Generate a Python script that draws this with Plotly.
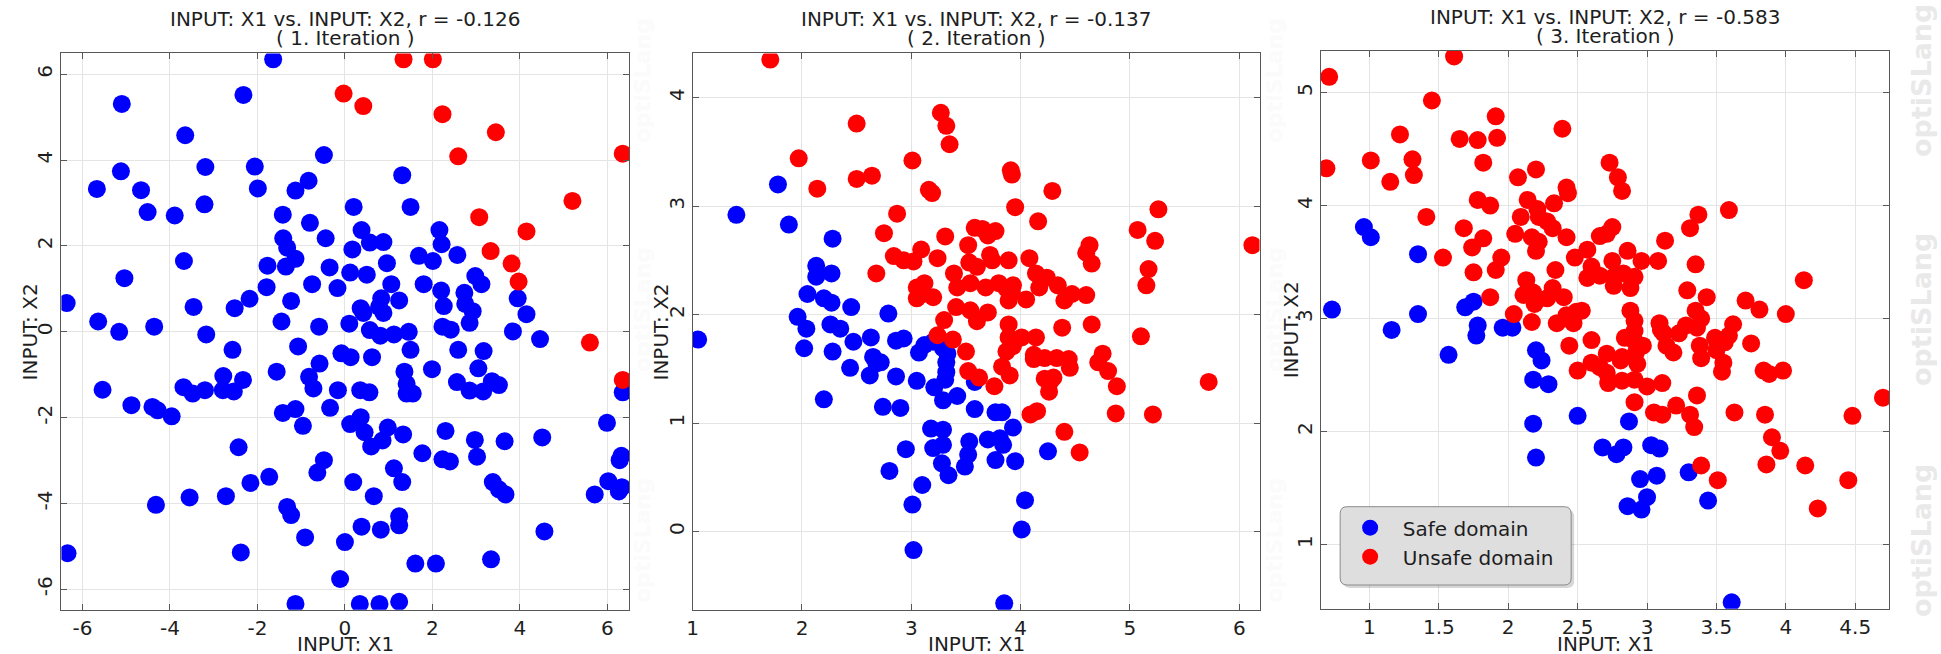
import plotly.graph_objects as go

# ---------------------------------------------------------------------------
# Iteration 1: sampled designs (INPUT: X1, INPUT: X2)
# ---------------------------------------------------------------------------
it1_safe_x = [
    -1.64, -2.32, -5.10, -3.65, -0.48, -5.12, -5.67, -4.66, -3.19, -2.06,
    -1.99, -0.83, -1.13, 1.31, 1.50, 0.20, -4.51, -3.89, -3.21, -1.42,
    -0.80, -0.44, 0.38, 0.57, 0.88, -1.41, -1.32, 0.17, 2.16, 2.21,
    2.57, 1.69, 2.01, 0.96, -3.68, -1.77, -1.35, -1.13, -0.35, 0.12,
    0.50, -5.04, -1.79, -0.75, -0.17, 1.06, 1.80, 2.98, 3.12, 2.73,
    2.20, -6.36, -3.46, -2.52, -2.18, -1.23, 0.83, 1.24, 0.36, 0.42,
    0.78, 0.88, 2.26, 2.75, 2.92, 3.95, 4.15, -5.64, -5.16, -4.36,
    -3.17, -1.45, -0.59, 0.10, 0.57, 0.81, 1.12, 1.46, 2.23, 2.42,
    2.85, 3.84, 4.46, -2.57, -1.07, -0.08, 0.13, 0.62, -0.58, 1.50,
    2.59, 3.17, 3.05, 1.99, -1.56, -5.54, -3.69, -3.48, -3.20, -2.78,
    -2.79, -2.54, -2.33, -0.82, -0.72, -0.16, 0.35, 0.56, 1.36, 1.41,
    1.41, 1.55, 2.56, 2.85, 3.16, 3.36, 3.52, 6.35, -4.88, -4.40,
    -4.28, -3.96, -1.42, -1.13, -0.34, -0.96, 0.12, 0.36, 0.45, 0.98,
    1.33, 2.30, 2.97, 3.65, 4.51, 5.99, -2.43, 0.60, 0.86, 1.77,
    2.23, 2.40, 3.02, -0.48, -0.63, 6.32, 6.28, -1.73, -2.16, 0.19,
    1.12, 1.31, 3.38, 3.52, 3.67, 6.02, 6.33, 6.26, 5.71, -4.32,
    -3.55, -2.72, 0.66, -1.32, -1.23, 1.24, 1.24, 0.38, 0.82, -0.91,
    0.00, 4.56, -6.34, -2.38, 1.61, 2.08, 3.34, -0.11, -1.13, 0.34, 0.79, 1.24,
]
it1_safe_y = [
    6.35, 5.52, 5.31, 4.58, 4.12, 3.74, 3.33, 3.30, 3.84, 3.85,
    3.34, 3.52, 3.29, 3.65, 2.91, 2.91, 2.79, 2.71, 2.97, 2.73,
    2.54, 2.18, 2.37, 2.08, 2.09, 2.18, 1.96, 1.92, 2.37, 2.04,
    1.79, 1.77, 1.65, 1.60, 1.65, 1.54, 1.52, 1.70, 1.50, 1.38,
    1.33, 1.25, 1.04, 1.11, 1.02, 1.11, 1.11, 1.30, 1.11, 0.91,
    0.96, 0.67, 0.58, 0.55, 0.77, 0.72, 0.78, 0.73, 0.55, 0.44,
    0.58, 0.44, 0.60, 0.65, 0.48, 0.78, 0.41, 0.24, 0.00, 0.12,
    -0.06, 0.24, 0.12, 0.19, 0.04, -0.09, -0.06, 0.00, 0.12, 0.05,
    0.21, 0.01, -0.17, -0.42, -0.34, -0.50, -0.59, -0.59, -0.74, -0.42,
    -0.42, -0.45, -0.85, -0.87, -0.93, -1.35, -1.29, -1.44, -1.36, -1.03,
    -1.36, -1.39, -1.12, -1.05, -1.32, -1.36, -1.36, -1.41, -0.93, -1.21,
    -1.44, -1.44, -1.17, -1.37, -1.39, -1.15, -1.24, -1.41, -1.71, -1.75,
    -1.83, -1.97, -1.89, -1.80, -1.77, -2.19, -2.15, -1.99, -2.34, -2.23,
    -2.39, -2.31, -2.52, -2.55, -2.46, -2.12, -2.69, -2.67, -2.53, -2.83,
    -2.97, -3.02, -2.91, -2.99, -3.28, -2.89, -2.99, -3.38, -3.52, -3.50,
    -3.18, -3.50, -3.50, -3.67, -3.79, -3.48, -3.62, -3.72, -3.79, -4.03,
    -3.86, -3.83, -3.83, -4.08, -4.27, -4.30, -4.51, -4.54, -4.61, -4.79,
    -4.90, -4.65, -5.16, -5.14, -5.40, -5.40, -5.30, -5.76, -6.34, -6.34, -6.34, -6.29,
]
it1_unsafe_x = [1.34, 2.01, -0.03, 0.42, 2.23, 3.45, 2.59, 6.35, 5.20, 3.07,
                4.15, 3.33, 3.81, 3.97, 5.60, 6.35]
it1_unsafe_y = [6.35, 6.35, 5.55, 5.26, 5.07, 4.65, 4.09, 4.15, 3.05, 2.67,
                2.34, 1.88, 1.59, 1.17, -0.25, -1.12]

# ---------------------------------------------------------------------------
# Iteration 2
# ---------------------------------------------------------------------------
it2_safe_x = [
    1.78, 1.40, 1.88, 2.28, 2.13, 2.13, 2.27, 2.05, 2.20, 2.27,
    2.45, 1.96, 2.04, 2.26, 2.35, 2.79, 1.05, 2.02, 2.28, 2.47,
    2.44, 2.63, 2.65, 2.68, 2.72, 2.62, 2.86, 2.93, 2.86, 3.05,
    3.07, 3.12, 3.20, 3.29, 3.33, 3.32, 3.32, 3.31, 3.21, 3.29,
    3.42, 3.58, 2.20, 2.74, 2.90, 3.58, 3.77, 3.83, 3.18, 3.29,
    3.93, 3.29, 3.20, 3.53, 3.70, 3.81, 3.84, 2.95, 3.52, 3.28,
    3.49, 3.34, 3.77, 3.95, 4.25, 2.80, 3.10, 3.01, 4.04, 4.01,
    3.02, 3.85,
]
it2_safe_y = [
    3.20, 2.92, 2.83, 2.70, 2.45, 2.35, 2.38, 2.19, 2.15, 2.11,
    2.07, 1.98, 1.87, 1.91, 1.87, 2.01, 1.77, 1.69, 1.66, 1.75,
    1.51, 1.79, 1.61, 1.55, 1.56, 1.44, 1.76, 1.78, 1.43, 1.39,
    1.65, 1.72, 1.75, 1.69, 1.64, 1.56, 1.47, 1.40, 1.33, 1.21,
    1.25, 1.38, 1.22, 1.15, 1.14, 1.13, 1.10, 1.10, 0.95, 0.94,
    0.96, 0.80, 0.77, 0.83, 0.85, 0.86, 0.80, 0.76, 0.71, 0.63,
    0.60, 0.52, 0.66, 0.65, 0.74, 0.56, 0.43, 0.25, 0.29, 0.02,
    -0.17, -0.66,
]
it2_unsafe_x = [
    1.71, 3.27, 3.32, 3.35, 2.50, 1.97, 3.01, 2.50, 2.64, 2.14,
    3.16, 3.19, 3.91, 3.92, 4.29, 3.95, 5.26, 2.87, 4.16, 2.75,
    3.31, 5.07, 5.23, 6.12, 3.58, 3.65, 3.70, 3.77, 3.52, 4.63,
    4.60, 4.65, 3.09, 2.84, 2.93, 3.02, 3.24, 2.68, 3.72, 3.74,
    3.89, 4.08, 3.53, 3.60, 5.17, 5.15, 3.39, 3.42, 3.54, 3.68,
    3.80, 3.87, 3.93, 4.14, 4.17, 4.24, 4.34, 4.47, 4.60, 4.05,
    4.40, 3.05, 3.12, 3.05, 3.11, 3.20, 3.41, 3.89, 3.92, 3.54,
    3.60, 3.70, 3.30, 3.89, 4.65, 4.38, 3.24, 3.38, 3.89, 4.01,
    4.14, 5.10, 3.50, 3.87, 3.93, 4.12, 4.12, 4.22, 4.33, 4.44,
    4.45, 4.75, 4.71, 4.80, 4.88, 3.52, 3.62, 3.83, 3.90, 3.76,
    4.22, 4.27, 4.26, 4.30, 5.72, 4.09, 4.15, 4.87, 5.21, 4.40,
    4.54,
]
it2_unsafe_y = [
    4.35, 3.86, 3.74, 3.57, 3.76, 3.44, 3.42, 3.25, 3.28, 3.16,
    3.15, 3.12, 3.33, 3.29, 3.14, 2.99, 2.97, 2.93, 2.86, 2.75,
    2.72, 2.78, 2.68, 2.64, 2.80, 2.79, 2.73, 2.77, 2.64, 2.64,
    2.57, 2.47, 2.60, 2.54, 2.50, 2.49, 2.52, 2.38, 2.55, 2.50,
    2.50, 2.52, 2.48, 2.44, 2.42, 2.27, 2.38, 2.25, 2.29, 2.25,
    2.29, 2.24, 2.27, 2.38, 2.25, 2.34, 2.27, 2.19, 2.18, 2.14,
    2.13, 2.25, 2.29, 2.15, 2.19, 2.16, 2.07, 2.13, 2.21, 2.04,
    1.94, 2.02, 1.95, 1.91, 1.91, 1.88, 1.81, 1.77, 1.79, 1.79,
    1.79, 1.80, 1.66, 1.66, 1.71, 1.63, 1.59, 1.60, 1.60, 1.59,
    1.51, 1.64, 1.56, 1.48, 1.34, 1.48, 1.42, 1.52, 1.44, 1.34,
    1.41, 1.38, 1.29, 1.42, 1.38, 1.08, 1.11, 1.09, 1.08, 0.92,
    0.73,
]

# ---------------------------------------------------------------------------
# Iteration 3
# ---------------------------------------------------------------------------
it3_safe_x = [
    0.96, 1.01, 0.73, 1.35, 1.35, 1.16, 1.69, 1.75, 1.78, 1.77,
    1.57, 1.96, 2.03, 2.20, 2.24, 2.18, 2.29, 2.50, 2.18, 2.20,
    2.87, 2.68, 2.78, 2.83, 3.03, 3.09, 3.07, 2.95, 3.00, 2.86,
    2.96, 3.30, 3.44, 3.61,
]
it3_safe_y = [
    3.81, 3.72, 3.08, 3.57, 3.04, 2.90, 3.10, 3.15, 2.94, 2.85,
    2.68, 2.92, 2.92, 2.72, 2.63, 2.46, 2.42, 2.14, 2.07, 1.77,
    2.09, 1.86, 1.80, 1.86, 1.88, 1.85, 1.61, 1.58, 1.42, 1.34,
    1.31, 1.64, 1.39, 0.49,
]
it3_unsafe_x = [
    0.71, 1.61, 1.45, 1.91, 1.92, 2.39, 1.22, 1.65, 1.78, 0.69,
    1.01, 1.31, 1.32, 1.82, 1.15, 2.20, 2.73, 2.79, 2.82, 2.07,
    2.42, 2.43, 1.78, 1.87, 2.14, 2.21, 2.33, 1.41, 2.09, 2.22,
    2.28, 3.59, 3.37, 3.31, 1.68, 2.05, 2.32, 2.17, 2.22, 2.42,
    2.66, 2.71, 2.75, 3.13, 1.82, 1.74, 2.20, 2.57, 2.86, 1.53,
    1.95, 2.48, 2.96, 3.08, 3.35, 2.60, 2.75, 1.75, 1.91, 2.34,
    2.13, 2.57, 2.66, 2.76, 2.76, 2.83, 2.88, 2.91, 3.29, 4.13,
    2.11, 2.18, 2.19, 2.28, 2.32, 2.40, 3.43, 3.71, 3.81, 4.00,
    2.04, 1.87, 2.17, 2.35, 2.42, 2.47, 2.49, 2.53, 2.88, 2.91,
    2.91, 3.35, 3.39, 3.09, 3.10, 3.28, 3.36, 3.62, 3.49, 3.59,
    3.56, 3.50, 3.23, 3.12, 3.14, 3.38, 3.19, 2.97, 2.91, 2.84,
    2.60, 2.71, 2.82, 2.92, 3.75, 2.44, 3.39, 3.55, 3.54, 2.60,
    2.66, 2.71, 2.50, 2.93, 2.81, 3.84, 3.88, 3.98, 2.72, 2.82,
    2.91, 3.00, 3.11, 3.36, 2.91, 3.21, 3.05, 3.11, 3.31, 3.34,
    3.63, 3.85, 4.70, 4.48, 3.90, 3.96, 3.86, 4.14, 3.39, 3.51,
    4.45, 4.23,
]
it3_unsafe_y = [
    5.14, 5.32, 4.93, 4.79, 4.60, 4.68, 4.63, 4.59, 4.58, 4.33,
    4.40, 4.41, 4.27, 4.38, 4.21, 4.32, 4.38, 4.25, 4.13, 4.25,
    4.16, 4.11, 4.05, 4.00, 4.05, 3.97, 4.02, 3.90, 3.90, 3.90,
    3.86, 3.96, 3.92, 3.80, 3.80, 3.75, 3.80, 3.72, 3.68, 3.72,
    3.73, 3.75, 3.81, 3.69, 3.71, 3.63, 3.60, 3.61, 3.60, 3.54,
    3.54, 3.54, 3.51, 3.51, 3.48, 3.46, 3.51, 3.41, 3.43, 3.43,
    3.34, 3.36, 3.38, 3.37, 3.29, 3.40, 3.27, 3.37, 3.25, 3.34,
    3.21, 3.23, 3.13, 3.18, 3.27, 3.19, 3.19, 3.16, 3.08, 3.04,
    3.04, 3.19, 2.97, 2.96, 3.03, 2.96, 3.06, 3.07, 3.07, 2.98,
    2.89, 3.07, 3.00, 2.96, 2.90, 2.94, 2.92, 2.95, 2.83, 2.85,
    2.79, 2.72, 2.87, 2.87, 2.76, 2.76, 2.70, 2.76, 2.80, 2.83,
    2.81, 2.69, 2.66, 2.70, 2.78, 2.76, 2.65, 2.61, 2.53, 2.61,
    2.57, 2.52, 2.54, 2.60, 2.63, 2.54, 2.51, 2.54, 2.43, 2.45,
    2.46, 2.40, 2.43, 2.32, 2.26, 2.23, 2.17, 2.15, 2.15, 2.04,
    2.17, 2.15, 2.30, 2.14, 1.95, 1.83, 1.71, 1.70, 1.70, 1.57,
    1.57, 1.32,
]

correlations = ["-0.126", "-0.137", "-0.583"]
iteration_labels = ["( 1. Iteration )", "( 2. Iteration )", "( 3. Iteration )"]
x_ticks = [[-6, -4, -2, 0, 2, 4, 6], [1, 2, 3, 4, 5, 6], [1, 1.5, 2, 2.5, 3, 3.5, 4, 4.5]]
y_ticks = [[-6, -4, -2, 0, 2, 4, 6], [0, 1, 2, 3, 4], [1, 2, 3, 4, 5]]

# ---------------------------------------------------------------------------
# Figure geometry (pixels of a 1941 x 654 canvas)
# ---------------------------------------------------------------------------
W, H = 1941, 654
FONT = "DejaVu Sans"
SAFE_COLOR = "#0000ff"
UNSAFE_COLOR = "#ff0000"
TEXT_COLOR = "#1e1e1e"
FRAME_COLOR = "#585858"
GRID_COLOR = "#e4e4e4"

panels = [
    dict(safe=(it1_safe_x, it1_safe_y), unsafe=(it1_unsafe_x, it1_unsafe_y),
         xrange=[-6.48, 6.495], yrange=[-6.475, 6.487],
         left=55.6, right=625.0, top=53.4, bottom=609.7, title_y=(19.5, 37.5),
         ytitle_x=24.0),
    dict(safe=(it2_safe_x, it2_safe_y), unsafe=(it2_unsafe_x, it2_unsafe_y),
         xrange=[1.0, 6.185], yrange=[-0.719, 4.407],
         left=688.8, right=1257.4, top=53.4, bottom=609.7, title_y=(19.5, 37.5),
         ytitle_x=657.0),
    dict(safe=(it3_safe_x, it3_safe_y), unsafe=(it3_unsafe_x, it3_unsafe_y),
         xrange=[0.649, 4.746], yrange=[0.432, 5.369],
         left=1318.8, right=1889.2, top=50.9, bottom=608.8, title_y=(17.0, 35.5),
         ytitle_x=1288.5),
]


def px_x(v):
    return v / W


def px_y(v):
    return 1 - v / H


def tick_text(values):
    # plain hyphen for negatives, no trailing zeros
    return [("%g" % v) for v in values]


fig = go.Figure()
layout = dict(
    width=W, height=H,
    margin=dict(l=0, r=0, t=0, b=0, pad=0),
    paper_bgcolor="white", plot_bgcolor="white",
    font=dict(family=FONT, size=20, color=TEXT_COLOR),
    showlegend=True,
)
annotations = []

# optiSLang watermark along the right edge, plus faded copies in the panel gaps
# (listed first so every other text is drawn on top of it)
for wx, col, size in [(1921, "#e9e9e9", 27), (638, "#fbfbfb", 22), (1272, "#fbfbfb", 22)]:
    for wy in (81, 310, 541):
        annotations.append(dict(
            text="<b>optiSLang</b>", x=px_x(wx), y=px_y(wy), xref="paper", yref="paper",
            xanchor="center", yanchor="middle", textangle=-90, showarrow=False,
            font=dict(family=FONT, size=size, color=col)))

axis_common = dict(
    showgrid=True, gridcolor=GRID_COLOR, gridwidth=1, zeroline=False,
    showline=True, linecolor=FRAME_COLOR, linewidth=1, mirror="ticks",
    ticks="inside", ticklen=6, tickwidth=1, tickcolor=FRAME_COLOR,
    tickfont=dict(family=FONT, size=20, color=TEXT_COLOR), tickmode="array",
)

text_annotations = []
for i, p in enumerate(panels):
    n = "" if i == 0 else str(i + 1)
    xa, ya = "x" + n, "y" + n
    legend_on = i == 2
    sx, sy = p["safe"]
    ux, uy = p["unsafe"]
    fig.add_trace(go.Scatter(
        x=sx, y=sy, mode="markers", xaxis=xa, yaxis=ya,
        marker=dict(size=18, color=SAFE_COLOR, line=dict(width=0)),
        name="\u00a0\u00a0Safe domain", showlegend=legend_on))
    fig.add_trace(go.Scatter(
        x=ux, y=uy, mode="markers", xaxis=xa, yaxis=ya,
        marker=dict(size=18, color=UNSAFE_COLOR, line=dict(width=0)),
        name="\u00a0\u00a0Unsafe domain", showlegend=legend_on))

    layout["xaxis" + n] = dict(
        axis_common, domain=[px_x(p["left"]), px_x(p["right"])],
        range=p["xrange"], tickvals=x_ticks[i], ticktext=tick_text(x_ticks[i]),
        anchor=ya)
    layout["yaxis" + n] = dict(
        axis_common, domain=[px_y(p["bottom"]), px_y(p["top"])],
        range=p["yrange"], tickvals=y_ticks[i], ticktext=tick_text(y_ticks[i]),
        tickangle=-90, anchor=xa)

    cx = (p["left"] + p["right"]) / 2
    cy = (p["top"] + p["bottom"]) / 2
    text_annotations += [
        dict(text="INPUT: X1 vs. INPUT: X2, r = " + correlations[i],
             x=px_x(cx), y=px_y(p["title_y"][0])),
        dict(text=iteration_labels[i], x=px_x(cx), y=px_y(p["title_y"][1])),
        dict(text="INPUT: X1", x=px_x(cx), y=px_y(644)),
        dict(text="INPUT: X2", x=px_x(p["ytitle_x"]), y=px_y(cy), textangle=-90),
    ]

for a in text_annotations:
    a.update(xref="paper", yref="paper", xanchor="center", yanchor="middle",
             showarrow=False, font=dict(family=FONT, size=20, color=TEXT_COLOR))

layout["annotations"] = annotations + text_annotations


# rounded legend box with a soft shadow
def rounded_rect(x0, y0, x1, y1, r):
    pts = [
        f"M {px_x(x0 + r)},{px_y(y0)}",
        f"L {px_x(x1 - r)},{px_y(y0)}",
        f"Q {px_x(x1)},{px_y(y0)} {px_x(x1)},{px_y(y0 + r)}",
        f"L {px_x(x1)},{px_y(y1 - r)}",
        f"Q {px_x(x1)},{px_y(y1)} {px_x(x1 - r)},{px_y(y1)}",
        f"L {px_x(x0 + r)},{px_y(y1)}",
        f"Q {px_x(x0)},{px_y(y1)} {px_x(x0)},{px_y(y1 - r)}",
        f"L {px_x(x0)},{px_y(y0 + r)}",
        f"Q {px_x(x0)},{px_y(y0)} {px_x(x0 + r)},{px_y(y0)}",
        "Z",
    ]
    return " ".join(pts)


box = (1338.3, 506.7, 1570.0, 585.0)
layout["shapes"] = [
    dict(type="path", xref="paper", yref="paper", layer="above",
         path=rounded_rect(box[0] + 3, box[1] + 3, box[2] + 3, box[3] + 3, 7),
         fillcolor="rgba(0,0,0,0.16)", line=dict(width=0)),
    dict(type="path", xref="paper", yref="paper", layer="above",
         path=rounded_rect(*box, 7),
         fillcolor="#dedede", line=dict(color="#8a8a8a", width=1)),
]

layout["legend"] = dict(
    x=px_x(1348.3), y=px_y(508.2), xanchor="left", yanchor="top",
    bgcolor="rgba(0,0,0,0)", borderwidth=0,
    font=dict(family=FONT, size=20, color=TEXT_COLOR),
    traceorder="normal",
)

fig.update_layout(**layout)
fig.write_html("out.html")
